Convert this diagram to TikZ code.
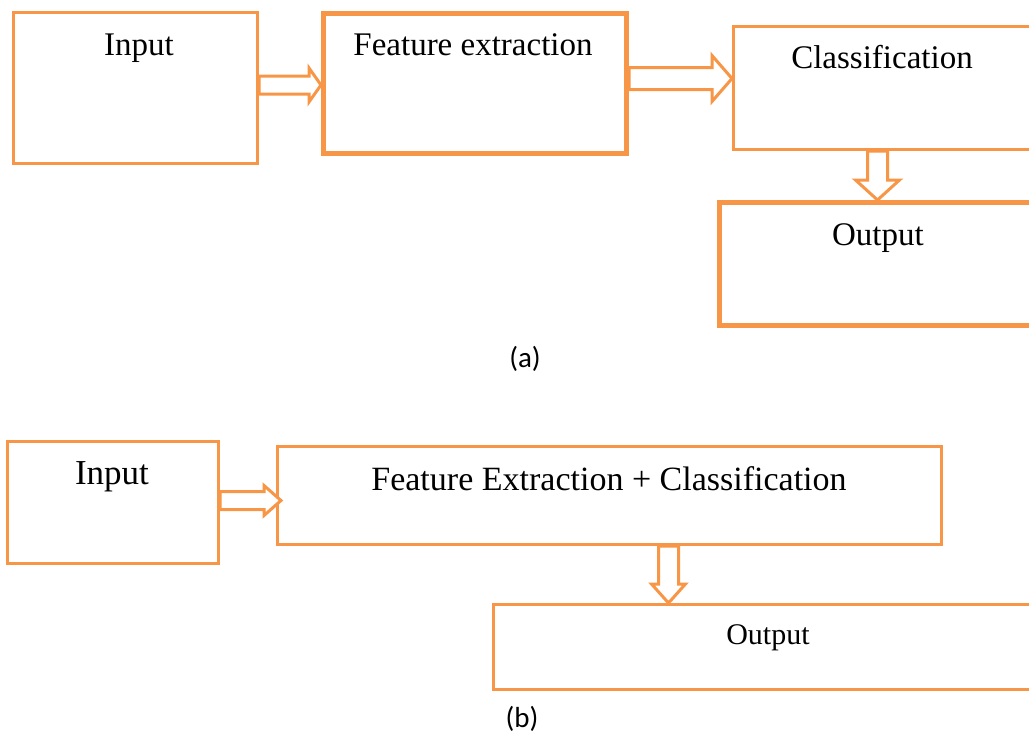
\documentclass[tikz,border=0pt]{standalone}
\usepackage{fontspec}
\setmainfont{Liberation Serif}
\newfontfamily\capfont{Carlito}
\usetikzlibrary{calc}
\definecolor{boxorange}{RGB}{247,150,70}
\tikzset{
  box/.style={draw=boxorange, line width=3pt, inner sep=0pt, anchor=north west},
  thickbox/.style={box, line width=5pt},
  lbl/.style={anchor=base, inner sep=0pt, font=\fontsize{33}{38}\selectfont},
  caption/.style={anchor=base, inner sep=0pt, font=\capfont\fontsize{29}{34}\selectfont},
  hblock/.style n args={3}{draw=boxorange, line width=3pt, fill=white, to path={let \p1=(\tikztostart), \p2=(\tikztotarget) in
    (\x1,\y1+#1) -- (\x2-#3,\y1+#1) -- (\x2-#3,\y1+#2) -- (\x2,\y1) -- (\x2-#3,\y1-#2) -- (\x2-#3,\y1-#1) -- (\x1,\y1-#1) -- cycle}},
  vblock/.style n args={3}{draw=boxorange, line width=3pt, fill=white, to path={let \p1=(\tikztostart), \p2=(\tikztotarget) in
    (\x1-#1,\y1) -- (\x1-#1,\y2+#3) -- (\x1-#2,\y2+#3) -- (\x1,\y2) -- (\x1+#2,\y2+#3) -- (\x1+#1,\y2+#3) -- (\x1+#1,\y1) -- cycle}}
}
\begin{document}
\begin{tikzpicture}[x=1pt, y=-1pt]
\clip (0,0) rectangle (1029,736);
% (a)
\node[box, minimum width=244pt, minimum height=151pt] (inp) at (12,11) {};
\node[thickbox, minimum width=303pt, minimum height=140pt] (fe) at (321,11) {};
\node[box, minimum width=327pt, minimum height=123pt] (cls) at (732,25) {};
\node[thickbox, minimum width=342pt, minimum height=123pt] (out) at (717,200) {};
\node[lbl] (inptxt) at (139,55) {Input};
\node[lbl] (fetxt) at (473,56) {Feature extraction};
\node[lbl] (clstxt) at (882,68) {Classification};
\node[lbl] (outtxt) at (878,245) {Output};
\node[caption] (capa) at (525,367) {(a)};
\draw[hblock={9pt}{17pt}{12pt}] ([yshift=3pt]inp.east) to (fe.west);
\draw[hblock={11pt}{23pt}{20pt}] ([yshift=5pt]fe.east) to (cls.west);
\draw[vblock={10pt}{22pt}{20pt}] ([xshift=-19.5pt]cls.south) to (out.north);
% (b)
\node[box, minimum width=211pt, minimum height=122pt] (inpb) at (6,440) {};
\node[box, minimum width=664pt, minimum height=98pt] (feb) at (276,445) {};
\node[box, minimum width=567pt, minimum height=85pt] (outb) at (492,603) {};
\node[lbl, font=\fontsize{35}{40}\selectfont] (inpbtxt) at (112,484) {Input};
\node[lbl, font=\fontsize{34}{39}\selectfont] (febtxt) at (609,490) {Feature Extraction + Classification};
\node[lbl, font=\fontsize{30}{35}\selectfont] (outbtxt) at (768,644) {Output};
\node[caption] (capb) at (522,727) {(b)};
\draw[hblock={9pt}{15pt}{17pt}] ([yshift=2pt]inpb.east) to ([xshift=5pt]feb.west);
\draw[vblock={10pt}{17pt}{19pt}] ([xshift=59pt]feb.south) to (outb.north);
\end{tikzpicture}
\end{document}
